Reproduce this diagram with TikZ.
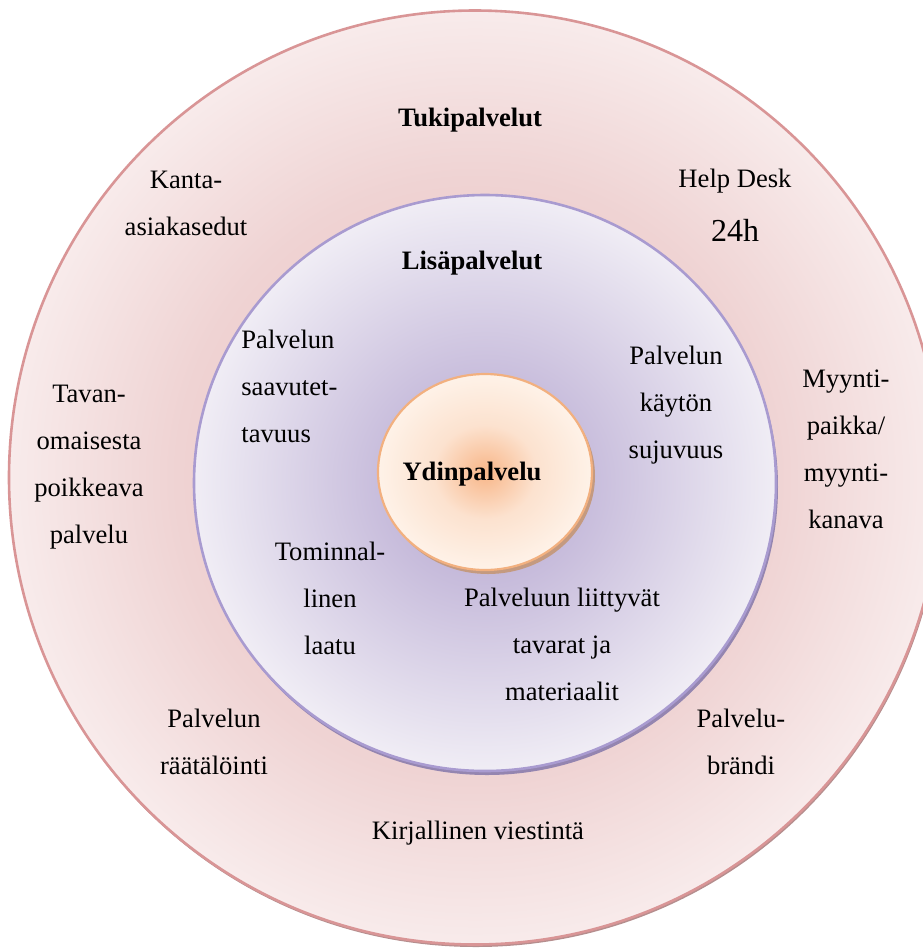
\documentclass[tikz,border=0pt]{standalone}
\usepackage{fontspec}
\setmainfont{Liberation Serif}
\definecolor{ringC}{HTML}{E6BEBE}
\definecolor{ringM}{HTML}{EFD3D3}
\definecolor{ringE}{HTML}{F8EBEB}
\definecolor{ringLine}{HTML}{D99596}
\definecolor{ringShadow}{HTML}{B58E8E}
\definecolor{midC}{HTML}{B4A3CE}
\definecolor{midM}{HTML}{C8BDDC}
\definecolor{midE}{HTML}{F0EDF5}
\definecolor{midLine}{HTML}{A99BD0}
\definecolor{midShadow}{HTML}{9485B0}
\definecolor{coreC}{HTML}{F8B688}
\definecolor{coreM}{HTML}{FCE2CF}
\definecolor{coreE}{HTML}{FEF2E8}
\definecolor{coreLine}{HTML}{F2B07F}
\definecolor{coreShadow}{HTML}{C49A80}
\pgfdeclareradialshading{outerring}{\pgfpointorigin}{color(0bp)=(ringC);color(16bp)=(ringM);color(25bp)=(ringE);color(50bp)=(ringE)}
\pgfdeclareradialshading{midring}{\pgfpointorigin}{color(0bp)=(midC);color(9bp)=(midM);color(25bp)=(midE);color(50bp)=(midE)}
\pgfdeclareradialshading{corering}{\pgfpointorigin}{color(0bp)=(coreC);color(12bp)=(coreM);color(25bp)=(coreE);color(50bp)=(coreE)}
\tikzset{
  lbl/.style={font=\fontsize{13.3}{23.5}\selectfont, align=center, inner sep=0pt},
  ttl/.style={font=\fontsize{13.3}{23.5}\selectfont\bfseries, inner sep=0pt},
}
\begin{document}
\begin{tikzpicture}[x=0.5pt,y=-0.5pt]
\clip (0,0) rectangle (923,950);
% outer ring
\fill[ringShadow] (476,481) ellipse [x radius=466, y radius=466];
\shade[shading=outerring, draw=ringLine, line width=1.3pt] (475,477.5) ellipse [x radius=466, y radius=467];
% middle ring
\fill[midShadow] (487,487) ellipse [x radius=291, y radius=288];
\shade[shading=midring, draw=midLine, line width=1.3pt] (485,483) ellipse [x radius=291, y radius=288];
% core
\fill[coreShadow] (488,476) ellipse [x radius=107, y radius=98];
\shade[shading=corering, draw=coreLine, line width=1.1pt] (485,472) ellipse [x radius=107, y radius=98];

\node[ttl] (tuki) at (470,120) {Tukipalvelut};
\node[ttl] (lisa) at (472,263) {Lisäpalvelut};
\node[ttl] (ydin) at (472,474) {Ydinpalvelu};

\node[lbl] (kanta) at (186,203.5) {Kanta-\\asiakasedut};
\node[lbl] (help) at (735,181) {Help Desk};
\node[lbl, font=\fontsize{16}{20}\selectfont] (h24) at (735,230) {24h};
\node[lbl, anchor=west, align=left] (saav) at (241,386) {Palvelun\\saavutet-\\tavuus};
\node[lbl] (kayt) at (676,405) {Palvelun\\käytön\\sujuvuus};
\node[lbl] (myynti) at (846,449) {Myynti-\\paikka/\\myynti-\\kanava};
\node[lbl] (tavan) at (89,467.5) {Tavan-\\omaisesta\\poikkeava\\palvelu};
\node[lbl] (toim) at (330,598) {Tominnal-\\linen\\laatu};
\node[lbl] (tavarat) at (562,644) {Palveluun liittyvät\\tavarat ja\\materiaalit};
\node[lbl] (raat) at (214,741.5) {Palvelun\\räätälöinti};
\node[lbl] (brandi) at (741,741.5) {Palvelu-\\brändi};
\node[lbl] (kirj) at (478,833) {Kirjallinen viestintä};
\end{tikzpicture}
\end{document}
